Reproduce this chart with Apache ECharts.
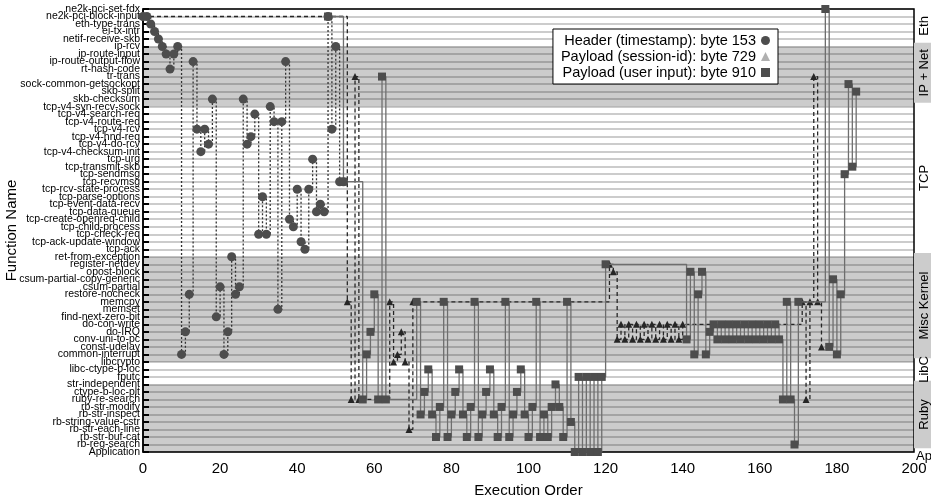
<!DOCTYPE html>
<html>
<head>
<meta charset="utf-8">
<script src="https://cdn.jsdelivr.net/npm/echarts@6/dist/echarts.min.js"></script>
<style>
  html, body { margin: 0; padding: 0; background: #fff; }
  #chart { width: 931px; height: 502px; }
</style>
</head>
<body>
<div id="chart"></div>
<script>
// function names, top to bottom
var funcs = [
  'ne2k-pci-set-fdx', 'ne2k-pci-block-input', 'eth-type-trans', 'ei-tx-intr', 'netif-receive-skb',
  'ip-rcv', 'ip-route-input', 'ip-route-output-flow', 'rt-hash-code', 'tr-trans',
  'sock-common-getsockopt', 'skb-split', 'skb-checksum', 'tcp-v4-syn-recv-sock', 'tcp-v4-search-req',
  'tcp-v4-route-req', 'tcp-v4-rcv', 'tcp-v4-hnd-req', 'tcp-v4-do-rcv', 'tcp-v4-checksum-init',
  'tcp-urg', 'tcp-transmit-skb', 'tcp-sendmsg', 'tcp-recvmsg', 'tcp-rcv-state-process',
  'tcp-parse-options', 'tcp-event-data-recv', 'tcp-data-queue', 'tcp-create-openreq-child', 'tcp-child-process',
  'tcp-check-req', 'tcp-ack-update-window', 'tcp-ack', 'ret-from-exception', 'register-netdev',
  'opost-block', 'csum-partial-copy-generic', 'csum-partial', 'restore-nocheck', 'memcpy',
  'memset', 'find-next-zero-bit', 'do-con-write', 'do-IRQ', 'conv-uni-to-pc',
  'const-udelay', 'common-interrupt', 'libcrypto', 'libc-ctype-b-loc', 'fputc',
  'str-independent', 'ctype-b-loc-plt', 'ruby-re-search', 'rb-str-modify', 'rb-str-inspect',
  'rb-string-value-cstr', 'rb-str-each-line', 'rb-str-buf-cat', 'rb-reg-search', 'Application'
];

// groups: name and the first function of each
var groupNames = ['Eth', 'IP + Net', 'TCP', 'Misc Kernel', 'LibC', 'Ruby', 'Ap'];
var groupFirst = ['ne2k-pci-set-fdx', 'ip-rcv', 'tcp-v4-syn-recv-sock', 'ret-from-exception', 'libcrypto', 'str-independent', 'Application'];
var shadedGroups = ['IP + Net', 'Misc Kernel', 'Ruby'];

var seriesNames = ['Header (timestamp): byte 153', 'Payload (session-id): byte 729', 'Payload (user input): byte 910'];

// [execution order, function index]
var headerPts = [
  [0,1],[1,1],[2,2],[3,3],[4,4],[5,5],[6,6],[7,8],[8,6],[9,5],[10,46],[11,43],[12,38],[13,7],
  [14,16],[15,19],[16,16],[17,18],[18,12],[19,41],[20,37],[21,46],[22,43],[23,33],[24,38],[25,37],
  [26,12],[27,18],[28,17],[29,14],[30,30],[31,25],[32,30],[33,13],[34,15],[35,40],[36,15],[37,7],
  [38,28],[39,29],[40,24],[41,31],[42,32],[43,24],[44,20],[45,27],[46,26],[47,27],[48,1],[49,16],
  [50,5],[51,23],[52,23]
];
var sessionPts = [
  [0,1],[53,39],[54,52],[55,9],[56,52],[64,39],[65,47],[66,46],[67,43],[68,47],[69,56],[70,39],
  [121,34],[122,35],[123,44],[124,42],[125,44],[126,42],[127,44],[128,42],[129,44],[130,42],[131,44],
  [132,42],[133,44],[134,42],[135,44],[136,42],[137,44],[138,42],[139,44],[140,42],
  [171,39],[172,52],[173,39],[174,9],[175,39],[176,45]
];
var inputPts = [
  [48,1],[52,23],[57,52],[58,46],[59,43],[60,38],[61,52],[62,9],[63,52],[71,39],[72,54],[73,51],
  [74,48],[75,54],[76,57],[77,53],[78,39],[79,57],[80,54],[81,51],[82,48],[83,54],[84,57],[85,53],
  [86,39],[87,57],[88,54],[89,51],[90,48],[91,54],[92,57],[93,53],[94,39],[95,57],[96,54],[97,51],
  [98,48],[99,54],[100,57],[101,53],[102,39],[103,57],[104,54],[105,57],[106,53],[107,50],[108,53],
  [109,57],[110,39],[111,55],[112,59],[113,49],[114,59],[115,49],[116,59],[117,49],[118,59],[119,49],
  [120,34],[141,44],[142,35],[143,46],[144,38],[145,35],[146,46],[147,43],[148,42],[149,44],[150,42],
  [151,44],[152,42],[153,44],[154,42],[155,44],[156,42],[157,44],[158,42],[159,44],[160,42],[161,44],
  [162,42],[163,44],[164,42],[165,44],[166,52],[167,39],[168,52],[169,58],[170,39],[177,0],[178,45],
  [179,36],[180,46],[181,38],[182,22],[183,10],[184,21],[185,11]
];

var xTicks = [0, 200, 20];

var font = 'Liberation Sans, Arial, Helvetica, sans-serif';
var chart = echarts.init(document.getElementById('chart'));

// shaded bands inside the plot
var bands = [];
groupNames.forEach(function (g, i) {
  if (shadedGroups.indexOf(g) < 0) return;
  var s = Math.max(0, funcs.indexOf(groupFirst[i]) - 0.5);
  var e = i + 1 < groupFirst.length ? funcs.indexOf(groupFirst[i + 1]) - 0.5 : funcs.length - 1;
  bands.push([{ yAxis: s }, { yAxis: e }]);
});

// y is the category (base) axis here, so 'start' gives horizontal-then-vertical steps
var stepMode = 'start';

var option = {
  animation: false,
  textStyle: { fontFamily: font },
  grid: {
    left: 143, right: 17, top: 9, bottom: 50, outerBoundsMode: 'none', containLabel: false,
    show: true, borderColor: '#000', borderWidth: 1.5
  },
  legend: {
    orient: 'vertical', align: 'right', right: 153, top: 29,
    backgroundColor: '#fff', borderColor: '#000', borderWidth: 1, borderRadius: 0,
    padding: [4, 8, 4, 8], itemGap: 1, itemWidth: 9, itemHeight: 9,
    textStyle: { fontSize: 14.5, lineHeight: 15, color: '#000', fontFamily: font },
    data: [
      { name: seriesNames[0], icon: 'circle', itemStyle: { color: '#4d4d4d' } },
      { name: seriesNames[1], icon: 'triangle', itemStyle: { color: '#b0b0b0' } },
      { name: seriesNames[2], icon: 'rect', itemStyle: { color: '#4d4d4d' } }
    ]
  },
  xAxis: [{
    type: 'value', min: xTicks[0], max: xTicks[1], interval: xTicks[2],
    name: 'Execution Order', nameLocation: 'middle', nameGap: 31,
    nameTextStyle: { fontSize: 15, color: '#000' },
    axisLine: { lineStyle: { color: '#000', width: 1.5 } },
    axisTick: { inside: true, length: 6, lineStyle: { color: '#000', width: 1.5 } },
    axisLabel: { fontSize: 15, color: '#000', margin: 9, showMinLabel: true, showMaxLabel: true },
    splitLine: { show: false }
  }, {
    type: 'value', position: 'top', min: xTicks[0], max: xTicks[1], interval: xTicks[2],
    axisLine: { lineStyle: { color: '#000', width: 1.5 } },
    axisTick: { inside: true, length: 6, lineStyle: { color: '#000', width: 1.5 } },
    axisLabel: { show: false }, splitLine: { show: false }
  }],
  yAxis: {
    type: 'category', data: funcs, boundaryGap: false, inverse: true,
    name: 'Function Name', nameLocation: 'middle', nameGap: 124, nameRotate: 90, nameMoveOverlap: false,
    nameTextStyle: { fontSize: 15, color: '#000' },
    axisLine: { lineStyle: { color: '#000', width: 1.5 } },
    axisTick: { inside: true, length: 6, interval: 0, lineStyle: { color: '#000', width: 2 } },
    axisLabel: { fontSize: 10.5, color: '#000', margin: 3, interval: 0, hideOverlap: false },
    splitLine: { show: true, interval: 0, lineStyle: { color: 'rgba(0,0,0,0.2)', width: 2 } }
  },
  series: [{
    name: seriesNames[1], type: 'line', step: stepMode, data: sessionPts,
    symbol: 'triangle', symbolSize: 7, showAllSymbol: true,
    itemStyle: { color: '#262626' },
    lineStyle: { color: '#262626', width: 1.3, type: [4, 3] },
    markArea: { silent: true, itemStyle: { color: 'rgba(0,0,0,0.2)' }, data: bands },
    z: 3
  }, {
    name: seriesNames[2], type: 'line', step: stepMode, data: inputPts,
    symbol: 'rect', symbolSize: 8, showAllSymbol: true,
    itemStyle: { color: '#4d4d4d' },
    lineStyle: { color: '#6e6e6e', width: 1.3, type: 'solid' },
    z: 4
  }, {
    name: seriesNames[0], type: 'line', step: stepMode, data: headerPts,
    symbol: 'circle', symbolSize: 9, showAllSymbol: true,
    itemStyle: { color: '#4d4d4d' },
    lineStyle: { color: '#333', width: 1.3, type: [2, 2] },
    z: 5
  }]
};
chart.setOption(option);

// group labels in the strip right of the plot
var gridR = chart.convertToPixel({ xAxisIndex: 0 }, xTicks[1]);
var yTop = chart.convertToPixel({ yAxisIndex: 0 }, 0);
var yStep = chart.convertToPixel({ yAxisIndex: 0 }, 1) - yTop;
var graphics = [];
groupNames.forEach(function (g, i) {
  var s = Math.max(0, funcs.indexOf(groupFirst[i]) - 0.5);
  var e = i + 1 < groupFirst.length ? funcs.indexOf(groupFirst[i + 1]) - 0.5 : funcs.length - 1;
  var y0 = yTop + s * yStep;
  var y1 = yTop + e * yStep;
  if (shadedGroups.indexOf(g) >= 0) {
    graphics.push({ type: 'rect', silent: true, z: 0,
      shape: { x: gridR, y: y0, width: 931 - gridR, height: y1 - y0 },
      style: { fill: '#cccccc' } });
  }
  if (y1 - y0 > 20) {
    graphics.push({ type: 'text', silent: true, z: 10, x: gridR + 10, y: (y0 + y1) / 2, rotation: Math.PI / 2,
      style: { text: g, font: '13px ' + font, fill: '#000', textAlign: 'center', textVerticalAlign: 'middle' } });
  } else {
    graphics.push({ type: 'text', silent: true, z: 10, x: gridR + 2, y: y1 + 4,
      style: { text: g, font: '13px ' + font, fill: '#000', textAlign: 'left', textVerticalAlign: 'middle' } });
  }
});
chart.setOption({ graphic: graphics });
</script>
</body>
</html>
